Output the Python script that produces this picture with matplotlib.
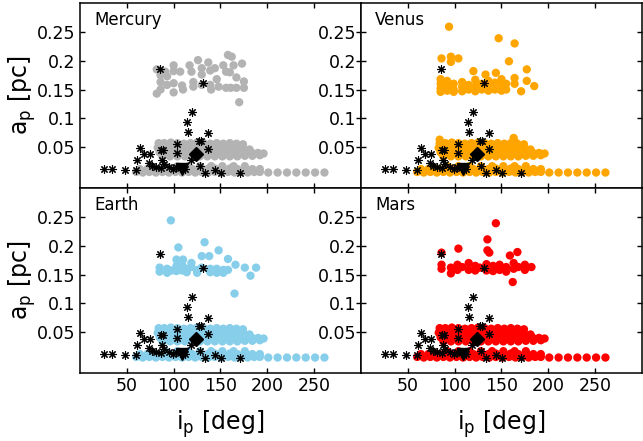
import matplotlib
matplotlib.use("Agg")
import matplotlib.pyplot as plt

# ---------------- data ----------------
planets = ["Mercury", "Venus", "Earth", "Mars"]
colors = ["#b3b3b3", "#ffa500", "#87ceeb", "#ff0000"]

# shared lower band of simulated points (i_p [deg], a_p [pc])
low_x = [60, 67, 74, 81, 88, 95, 102, 109, 116, 123, 130, 137, 144, 151, 158, 165, 172, 179, 186, 192,
         201, 211, 221, 231, 241, 251, 261,
         64, 72, 80, 88, 96, 104, 112, 120, 128, 136, 144, 152, 160, 168, 176, 184, 192,
         92, 104, 116, 128, 140, 152, 164, 176]
low_a = [0.007, 0.006, 0.007, 0.006, 0.007, 0.006, 0.007, 0.006, 0.007, 0.006, 0.007, 0.006, 0.007, 0.006,
         0.007, 0.006, 0.007, 0.006, 0.007, 0.007,
         0.006, 0.006, 0.006, 0.006, 0.006, 0.006, 0.006,
         0.012, 0.012, 0.013, 0.012, 0.013, 0.012, 0.013, 0.012, 0.013, 0.012, 0.013, 0.012, 0.013, 0.012,
         0.013, 0.012, 0.012,
         0.017, 0.017, 0.017, 0.017, 0.017, 0.017, 0.017, 0.017]

# shared middle band
mid_x = [84, 90, 97, 104, 111, 118, 125, 132, 139, 146, 153, 160, 167, 174,
         83, 90, 97, 104, 111, 118, 125, 132, 139, 146, 153, 160, 167, 174, 181,
         85, 92, 99, 106, 113, 120, 127, 134, 141, 148, 155, 162, 169, 176, 183, 190, 196,
         88, 96, 104, 112, 120, 128, 136, 144, 152, 160, 168, 176, 184, 192]
mid_a = [0.057, 0.057, 0.058, 0.057, 0.056, 0.057, 0.058, 0.057, 0.056, 0.057, 0.056, 0.057, 0.056, 0.055,
         0.049, 0.049, 0.050, 0.049, 0.049, 0.050, 0.049, 0.049, 0.050, 0.049, 0.049, 0.050, 0.049, 0.048, 0.046,
         0.041, 0.041, 0.042, 0.041, 0.041, 0.042, 0.041, 0.041, 0.042, 0.041, 0.041, 0.042, 0.041, 0.041,
         0.041, 0.040, 0.039,
         0.034, 0.034, 0.034, 0.034, 0.034, 0.034, 0.034, 0.034, 0.034, 0.034, 0.034, 0.035, 0.035, 0.036]

# per-planet upper cluster and extra points
mercury_x = [82, 86, 86, 86, 82, 91, 93, 93, 100, 100, 100, 100, 107, 109, 110, 117, 119, 121, 121,
             126, 130, 130, 130, 137, 139, 139, 140, 144, 146, 148, 153, 156, 158, 160, 156, 161,
             162, 164, 167, 167, 173, 175, 175, 170]
mercury_a = [0.185, 0.175, 0.163, 0.150, 0.143, 0.181, 0.173, 0.158, 0.192, 0.182, 0.161, 0.145,
             0.181, 0.157, 0.150, 0.192, 0.181, 0.163, 0.155, 0.201, 0.187, 0.176, 0.158,
             0.197, 0.183, 0.158, 0.150, 0.187, 0.168, 0.155, 0.192, 0.181, 0.210, 0.180, 0.153, 0.153,
             0.207, 0.192, 0.171, 0.153, 0.195, 0.164, 0.153, 0.128]

venus_x = [85, 85, 85, 85, 92, 92, 92, 99, 99, 99, 108, 108, 108, 115, 115, 122, 122, 122, 129, 129,
           136, 136, 136, 143, 143, 150, 150, 150, 155, 155, 164, 164,
           94, 147, 164, 86, 96, 96, 104, 158, 120, 133, 144, 177, 177, 185, 171,
           84, 163, 164]
venus_a = [0.168, 0.160, 0.152, 0.146, 0.165, 0.155, 0.148, 0.160, 0.150, 0.146, 0.163, 0.155, 0.147,
           0.158, 0.150, 0.167, 0.155, 0.147, 0.160, 0.150, 0.165, 0.158, 0.148, 0.162, 0.150,
           0.168, 0.158, 0.148, 0.160, 0.150, 0.170, 0.160,
           0.259, 0.239, 0.230, 0.204, 0.207, 0.198, 0.204, 0.199, 0.182, 0.176, 0.179, 0.185, 0.165,
           0.156, 0.147,
           0.063, 0.066, 0.060]

earth_x = [85, 85, 93, 93, 98, 103, 103, 109, 109, 114, 114, 119, 125, 125, 130, 139, 139, 146, 146,
           153, 153, 158,
           97, 105, 133, 148, 138, 130, 158, 103, 110, 119, 166, 176, 188, 182, 165]
earth_a = [0.162, 0.155, 0.160, 0.153, 0.157, 0.165, 0.156, 0.167, 0.157, 0.160, 0.154, 0.163,
           0.158, 0.153, 0.162, 0.160, 0.154, 0.160, 0.153, 0.158, 0.153, 0.158,
           0.244, 0.197, 0.206, 0.192, 0.182, 0.182, 0.177, 0.176, 0.176, 0.170, 0.167, 0.162,
           0.162, 0.148, 0.117]

mars_x = [86, 86, 96, 96, 103, 103, 108, 115, 115, 122, 122, 127, 134, 134, 141, 141, 148, 148,
          155, 155, 163, 163, 168, 175, 175, 182,
          144, 135, 135, 137, 104, 86, 159, 167, 162]
mars_a = [0.167, 0.160, 0.162, 0.152, 0.167, 0.158, 0.163, 0.170, 0.158, 0.165, 0.157, 0.162,
          0.168, 0.157, 0.165, 0.156, 0.167, 0.158, 0.163, 0.155, 0.170, 0.160, 0.163, 0.167,
          0.158, 0.163,
          0.239, 0.211, 0.192, 0.188, 0.195, 0.188, 0.183, 0.189, 0.137]

extra_x = [mercury_x, venus_x, earth_x, mars_x]
extra_a = [mercury_a, venus_a, earth_a, mars_a]

# observed objects (asterisks)
obs_x = [26, 34, 48, 60, 61, 64, 68, 75, 74, 77, 81, 85, 86, 89, 88, 86, 90, 95, 99, 104, 104,
         107, 114, 115, 120, 119, 127, 129, 128, 131, 137, 137, 134, 144, 151, 171, 103, 110, 112]
obs_a = [0.012, 0.012, 0.010, 0.010, 0.027, 0.049, 0.039, 0.039, 0.022, 0.018, 0.015, 0.186,
         0.045, 0.045, 0.027, 0.013, 0.020, 0.015, 0.012, 0.055, 0.040, 0.014, 0.094, 0.077,
         0.111, 0.027, 0.060, 0.060, 0.017, 0.162, 0.074, 0.047, 0.006, 0.010, 0.0045, 0.006,
         0.015, 0.016, 0.012]
diamond_x, diamond_a = [124], [0.039]
tri_x, tri_a = [109], [0.012]

xticks = [50, 100, 150, 200, 250]
yticks = [0.05, 0.1, 0.15, 0.2, 0.25]
yticklabels = ["0.05", "0.1", "0.15", "0.2", "0.25"]

# ---------------- plot ----------------
fig, axes = plt.subplots(2, 2, figsize=(6.43, 4.41), dpi=100)
fig.subplots_adjust(left=0.1244, right=0.9984, top=0.993, bottom=0.154, wspace=0, hspace=0)

for k, ax in enumerate(axes.flat):
    xs = low_x + mid_x + extra_x[k]
    ys = low_a + mid_a + extra_a[k]
    ax.scatter(xs, ys, s=36, color=colors[k], edgecolors="none", zorder=2)
    ax.plot(obs_x, obs_a, linestyle="none", marker=(8, 2, 0), markersize=6,
            markeredgewidth=0.8, color="black", zorder=3)
    ax.plot(tri_x, tri_a, linestyle="none", marker="v", markersize=8, color="black", zorder=4)
    ax.plot(diamond_x, diamond_a, linestyle="none", marker="D", markersize=7.5, color="black", zorder=4)
    ax.set_xlim(0, 300)
    ax.set_ylim(-0.021, 0.3)
    ax.set_xticks(xticks)
    ax.set_yticks(yticks)
    ax.set_yticklabels(yticklabels)
    ax.tick_params(direction="in", top=True, right=True, length=3.5, width=1,
                   labelsize=12.5, pad=3)
    for sp in ax.spines.values():
        sp.set_linewidth(1.1)
    ax.text(0.05, 0.955, planets[k], transform=ax.transAxes, ha="left", va="top", fontsize=12)
    if k < 2:
        ax.tick_params(labelbottom=False)
    else:
        ax.set_xlabel("i$_\\mathrm{p}$ [deg]", fontsize=17)
        ax.xaxis.set_label_coords(0.5, -0.19)
    if k % 2 == 0:
        ax.set_ylabel("a$_\\mathrm{p}$ [pc]", fontsize=17)
        ax.yaxis.set_label_coords(-0.15, 0.5)

fig.savefig("out.png", dpi=100)
